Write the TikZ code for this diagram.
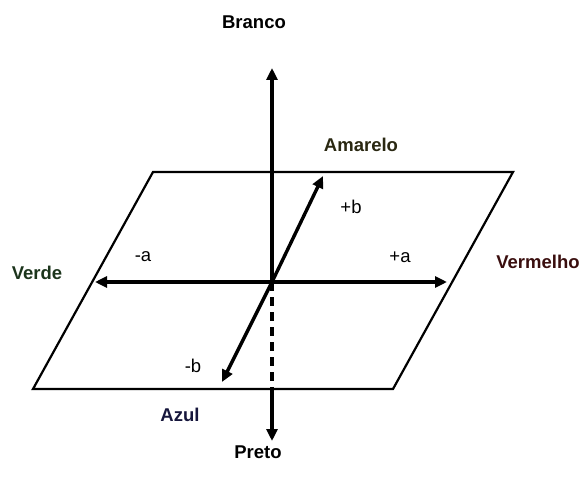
\documentclass[tikz,border=0pt]{standalone}
\usepackage{fontspec}
\setmainfont{Liberation Sans}
\usetikzlibrary{arrows.meta}
\definecolor{verde}{HTML}{1C351C}
\definecolor{vermelho}{HTML}{3A0E0E}
\definecolor{amarelo}{HTML}{2A2812}
\definecolor{azul}{HTML}{16163C}
\begin{document}
\begin{tikzpicture}[
    x=1pt, y=-1pt,
    plane/.style={line width=2.2pt, line join=miter},
    axis/.style={line width=3.4pt, -{Triangle[length=12pt,width=11pt]}},
    lbl/.style={font=\fontsize{18.5}{21}\selectfont\bfseries, anchor=center},
    sgn/.style={font=\fontsize{18.5}{21}\selectfont, anchor=center}
  ]
  \useasboundingbox (0,0) rectangle (581,487);
  % plane a*b
  \coordinate (tl) at (153,172);
  \coordinate (tr) at (513,172);
  \coordinate (br) at (393,389);
  \coordinate (bl) at (33,389);
  \draw[plane] (tl) -- (tr) -- (br) -- (bl) -- cycle;
  % axes
  \coordinate (o) at (272,282);
  \coordinate (up) at (272,68);
  \coordinate (edge) at (272,389);
  \coordinate (down) at (272,441);
  \coordinate (west) at (95,282);
  \coordinate (east) at (447,282);
  \coordinate (ne) at (323,176);
  \coordinate (sw) at (222,382);
  \draw[axis] (o) -- (up);
  \draw[line width=3.4pt, dash pattern=on 9pt off 6pt] (o) -- (edge);
  \draw[axis] (edge) -- (down);
  \draw[axis] (o) -- (west);
  \draw[axis] (o) -- (east);
  \draw[axis] (o) -- (ne);
  \draw[axis] (o) -- (sw);
  % colour names
  \foreach \n/\x/\y/\c/\t in {branco/254/22/black/Branco, preto/258/452/black/Preto,
      amarelo/361/145/amarelo/Amarelo, verde/37/273/verde/Verde,
      vermelho/538/262/vermelho/Vermelho, azul/180/415/azul/Azul} {
    \node[lbl, text=\c] (\n) at (\x,\y) {\t};
  }
  % signs
  \foreach \n/\x/\y/\t in {pb/351/207/+b, ma/143/257/-a, pa/400/257/+a, mb/193/366/-b} {
    \node[sgn] (\n) at (\x,\y) {\t};
  }
\end{tikzpicture}
\end{document}
